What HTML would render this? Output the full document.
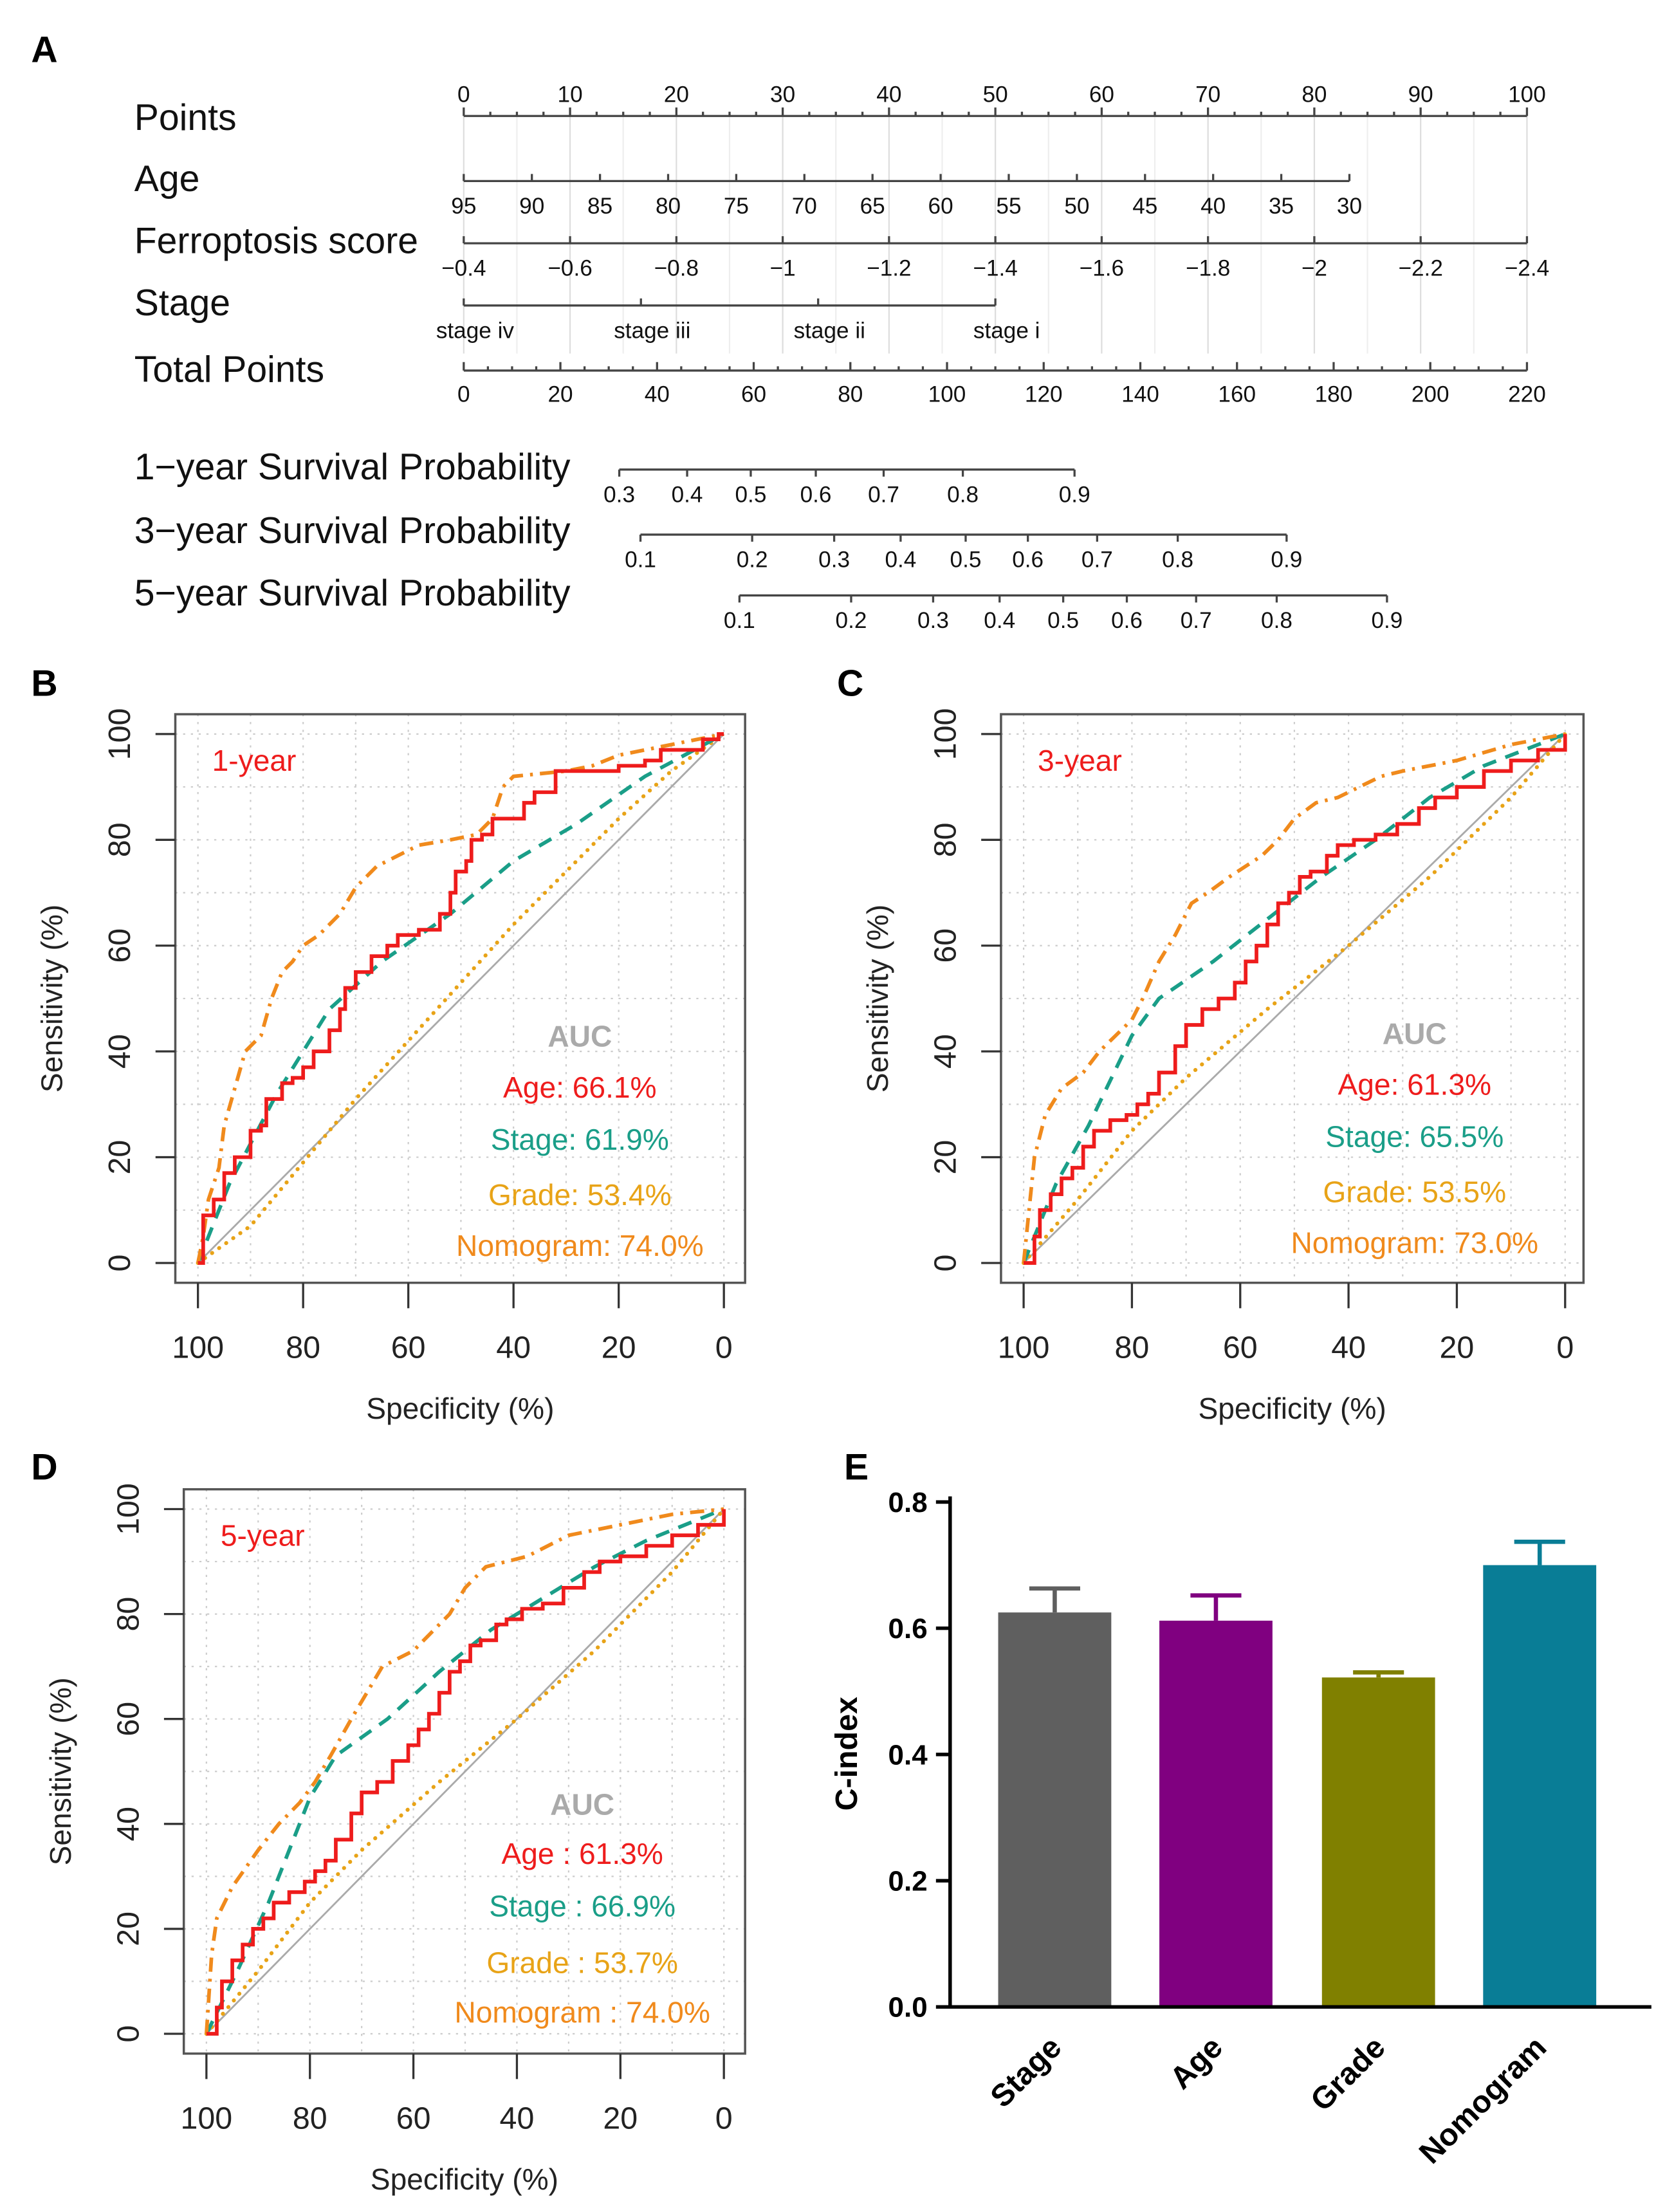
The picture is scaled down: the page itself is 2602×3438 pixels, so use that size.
<!DOCTYPE html>
<html><head><meta charset="utf-8">
<style>
html,body{margin:0;padding:0;background:#fff;}
svg{display:block;font-family:"Liberation Sans",Arial,sans-serif;}
</style></head>
<body>
<svg id="fig" width="2602" height="3438" viewBox="0 0 1184 1564" preserveAspectRatio="none" xmlns="http://www.w3.org/2000/svg">
<text x="22" y="44" font-size="26" font-weight="bold">A</text>
<text x="22" y="492" font-size="26" font-weight="bold">B</text>
<text x="592" y="492" font-size="26" font-weight="bold">C</text>
<text x="22" y="1046" font-size="26" font-weight="bold">D</text>
<text x="597" y="1046" font-size="26" font-weight="bold">E</text>
<g id="nomo"></g>
<g id="pb"></g>
<g id="pc"></g>
<g id="pd"></g>
<g id="pe"></g>
</svg>
<script>
// ---------- data ----------
const rocB_age=[[100,0],[99,3],[99,9],[97,9],[97,12],[96,12],[95,17],[93,20],[91,20],[90,25],[88,26],[87,31],[84,31],[84,34],[82,35],[80,37],[78,40],[75,44],[73,48],[72,52],[70,55],[67,58],[64,60],[62,62],[58,63],[55,63],[54,66],[52,70],[51,74],[49,76],[48,80],[46,81],[44,84],[40,84],[38,87],[36,89],[33,89],[32,93],[20,93],[20,94],[15,95],[12,97],[5,97],[4,99],[1,100],[0,100]];
const rocB_nomo=[[100,0],[99,5],[98,12],[96,18],[95,26],[93,33],[91,40],[88,43],[86,50],[84,55],[82,57],[80,60],[77,62],[73,66],[70,71],[66,75],[62,77],[58,79],[52,80],[47,81],[44,84],[42,90],[40,92],[30,93],[25,94],[20,96],[10,98],[5,99],[0,100]];
const rocB_stage=[[100,0],[94,15],[85,32],[75,48],[65,57],[52,66],[40,76],[28,83],[15,92],[0,100]];
const rocB_grade=[[100,0],[90,7],[80,19],[70,31],[60,42],[50,53],[40,64],[30,74],[20,84],[10,93],[0,100]];
const rocC_age=[[100,0],[98,5],[97,10],[95,13],[93,16],[91,18],[89,22],[87,25],[84,27],[81,28],[79,30],[77,32],[75,36],[72,41],[70,45],[67,48],[64,50],[61,53],[59,57],[57,60],[55,64],[53,68],[51,70],[49,73],[47,74],[44,77],[42,79],[39,80],[35,81],[31,83],[27,86],[24,88],[20,90],[15,93],[10,95],[5,97],[0,100]];
const rocC_nomo=[[100,0],[99,10],[98,20],[96,28],[93,33],[89,36],[86,40],[83,43],[80,46],[78,50],[75,57],[72,62],[69,68],[66,70],[62,73],[59,75],[56,77],[53,80],[50,84],[46,87],[42,88],[38,90],[34,92],[30,93],[20,95],[10,98],[0,100]];
const rocC_stage=[[100,0],[94,15],[88,26],[80,43],[75,50],[65,57],[55,65],[45,73],[35,80],[25,88],[15,94],[0,100]];
const rocC_grade=[[100,0],[90,12],[80,25],[70,35],[55,48],[40,60],[25,73],[10,88],[0,100]];
const rocD_age=[[100,0],[98,5],[97,10],[95,14],[93,17],[91,20],[89,22],[87,25],[84,27],[81,29],[79,31],[77,33],[75,37],[72,42],[70,46],[67,48],[64,52],[61,55],[59,58],[57,61],[55,65],[53,69],[51,71],[49,74],[47,75],[44,78],[42,79],[39,81],[35,82],[31,85],[27,88],[24,90],[20,91],[15,93],[10,95],[5,97],[0,100]];
const rocD_nomo=[[100,0],[99,15],[98,22],[95,28],[90,35],[86,40],[82,44],[79,48],[76,53],[72,60],[69,65],[66,70],[60,73],[57,76],[53,80],[50,85],[46,89],[42,90],[38,91],[34,93],[30,95],[20,97],[10,99],[0,100]];
const rocD_stage=[[100,0],[94,12],[88,25],[80,45],[75,53],[65,60],[55,69],[45,77],[35,83],[25,89],[15,94],[0,100]];
const rocD_grade=[[100,0],[90,12],[80,25],[70,35],[55,48],[40,60],[25,73],[10,88],[0,100]];
const rocTicks=[100,80,60,40,20,0];
const barCats=["Stage","Age","Grade","Nomogram"];
const barVals=[0.625,0.612,0.522,0.70];
const barErr=[0.038,0.040,0.008,0.037];
const barTicks=[0.0,0.2,0.4,0.6,0.8];

const NS="http://www.w3.org/2000/svg";
function mk(parent,tag,attrs,txt){const e=document.createElementNS(NS,tag);for(const k in attrs)e.setAttribute(k,attrs[k]);if(txt!==undefined)e.textContent=txt;parent.appendChild(e);return e;}

// ---------- ROC panels ----------
function roc(gid,box,xr,yr,series,label,auc,aucY){
  const g=document.getElementById(gid);
  const X=v=>xr[0]+(100-v)/100*(xr[1]-xr[0]);
  const Y=v=>yr[0]-v/100*(yr[0]-yr[1]);
  for(let v=0;v<=100;v+=10){
    let l=mk(g,'line',{x1:X(v),x2:X(v),y1:box[1],y2:box[3],stroke:'#ccc','stroke-width':1,'stroke-dasharray':'1.5 4'});
    
    l=mk(g,'line',{x1:box[0],x2:box[2],y1:Y(v),y2:Y(v),stroke:'#ccc','stroke-width':1,'stroke-dasharray':'1.5 4'});
    
  }
  let d=mk(g,'line',{x1:X(100),y1:Y(0),x2:X(0),y2:Y(100),stroke:'#aaa','stroke-width':1.3});
  
  const st=[{k:'grade',c:'#e8a317',da:'0.1 6',w:2.8},{k:'stage',c:'#1a9e88',da:'10 7',w:2.6},{k:'nomo',c:'#f08a1c',da:'10 5 2 5',w:2.6},{k:'age',c:'#ee1c1c',da:'',w:2.6}];
  st.forEach(s=>{
    const pts=series[s.k];let p='M'+X(pts[0][0])+' '+Y(pts[0][1]);
    for(let i=1;i<pts.length;i++){ if(s.k==='age'){p+=' H'+X(pts[i][0])+' V'+Y(pts[i][1]);} else p+=' L'+X(pts[i][0])+' '+Y(pts[i][1]); }
    const e=mk(g,'path',{d:p,fill:'none',stroke:s.c,'stroke-width':s.w,'stroke-dasharray':s.da,'stroke-linecap':s.k==='grade'?'round':'butt'});
    
  });
  const r=mk(g,'rect',{x:box[0],y:box[1],width:box[2]-box[0],height:box[3]-box[1],fill:'none',stroke:'#555','stroke-width':1.6});
  
  rocTicks.forEach(v=>{
    let t=mk(g,'line',{x1:X(v),x2:X(v),y1:box[3],y2:box[3]+18,stroke:'#333','stroke-width':1.5});
    
    let tl=mk(g,'text',{x:X(v),y:box[3]+53,'font-size':22,'text-anchor':'middle',fill:'#222'},String(v));
    
    t=mk(g,'line',{x1:box[0]-14,x2:box[0],y1:Y(v),y2:Y(v),stroke:'#333','stroke-width':1.5});
    
    const yl=box[0]-32;
    tl=mk(g,'text',{x:yl,y:Y(v),'font-size':22,'text-anchor':'middle',fill:'#222',transform:`rotate(-90 ${yl} ${Y(v)})`},String(v));
    
  });
  let xt=mk(g,'text',{x:(box[0]+box[2])/2,y:box[3]+96,'font-size':21,'text-anchor':'middle',fill:'#222'},'Specificity (%)');
  
  const yx=box[0]-80,yy=(box[1]+box[3])/2;
  let yt=mk(g,'text',{x:yx,y:yy,'font-size':21,'text-anchor':'middle',fill:'#222',transform:`rotate(-90 ${yx} ${yy})`},'Sensitivity (%)');
  
  let lb=mk(g,'text',{x:box[0]+26,y:box[1]+40,'font-size':21,fill:'#ee1c1c'},label);
  
  const cx=box[0]+(box[2]-box[0])*0.71;
  const cols=['#aaa','#ee1c1c','#1a9e88','#e8a317','#f08a1c'];
  const names=['auc-title','auc-age','auc-stage','auc-grade','auc-nomogram'];
  for(let i=0;i<5;i++){
    const tx=i===0?'AUC':auc[i-1];
    const e=mk(g,'text',{x:cx,y:aucY[i],'font-size':21,'text-anchor':'middle',fill:cols[i],'font-weight':i===0?'bold':'normal'},tx);
    
  }
}
roc('pb',[124,505,527,907],[140,512],[893,519],{age:rocB_age,nomo:rocB_nomo,stage:rocB_stage,grade:rocB_grade},'1-year',['Age: 66.1%','Stage: 61.9%','Grade: 53.4%','Nomogram: 74.0%'],[740,776,813,852,888]);
roc('pc',[708,505,1120,907],[724,1107],[893,519],{age:rocC_age,nomo:rocC_nomo,stage:rocC_stage,grade:rocC_grade},'3-year',['Age: 61.3%','Stage: 65.5%','Grade: 53.5%','Nomogram: 73.0%'],[738,774,811,850,886]);
roc('pd',[130,1053,527,1452],[146,512],[1438,1067],{age:rocD_age,nomo:rocD_nomo,stage:rocD_stage,grade:rocD_grade},'5-year',['Age : 61.3%','Stage : 66.9%','Grade : 53.7%','Nomogram : 74.0%'],[1283,1318,1355,1395,1430]);

// ---------- Bar chart E ----------
(function(){
  const g=document.getElementById('pe');
  const y0=1419,y1=1062,ax=672,xr=1168;
  const Y=v=>y0-v/0.8*(y0-y1);
  const cols=['#5f5f5f','#800080','#808000','#097d96'];
  const bx=[706,820,935,1049],bw=80;
  barCats.forEach((c,i)=>{
    const v=barVals[i],e=barErr[i],cx=bx[i]+bw/2;
    let l=mk(g,'line',{x1:cx,x2:cx,y1:Y(v),y2:Y(v+e),stroke:cols[i],'stroke-width':3});
    
    l=mk(g,'line',{x1:cx-18,x2:cx+18,y1:Y(v+e),y2:Y(v+e),stroke:cols[i],'stroke-width':3});
    
    const r=mk(g,'rect',{x:bx[i],y:Y(v),width:bw,height:y0-Y(v),fill:cols[i]});
    
    const tx=cx+6,ty=y0+30;
    const t=mk(g,'text',{x:tx,y:ty,'font-size':22,'font-weight':'bold','text-anchor':'end',fill:'#000',transform:`rotate(-45 ${tx} ${ty})`},c);
    
  });
  let a=mk(g,'line',{x1:ax,x2:ax,y1:y1-4,y2:y0+1,stroke:'#000','stroke-width':2.5});
  
  a=mk(g,'line',{x1:ax-1,x2:xr,y1:y0,y2:y0,stroke:'#000','stroke-width':2.5});
  
  barTicks.forEach(v=>{
    let t=mk(g,'line',{x1:ax-10,x2:ax,y1:Y(v),y2:Y(v),stroke:'#000','stroke-width':2.5});
    
    t=mk(g,'text',{x:ax-16,y:Y(v)+7,'font-size':20,'font-weight':'bold','text-anchor':'end'},v.toFixed(1));
    
  });
  const tt=mk(g,'text',{x:606,y:1240,'font-size':22,'font-weight':'bold','text-anchor':'middle',transform:'rotate(-90 606 1240)'},'C-index');
  
})();

// ---------- Nomogram A ----------
(function(){
  const g=document.getElementById('nomo');
  const L=328,R=1080;
  const P=v=>L+v/100*(R-L);
  function txt(x,y,s,fs,anchor,name){const e=mk(g,'text',{x:x,y:y,'font-size':fs,'text-anchor':anchor||'middle',fill:'#111'},s);return e;}
  function ln(x1,y1,x2,y2,name,c,w){const e=mk(g,'line',{x1,y1,x2,y2,stroke:c||'#444','stroke-width':w||1.5});return e;}
  for(let v=0;v<=100;v+=5){ln(P(v),82,P(v),250,'grid-line',v%10===0?'#ddd':'#eee',1);}
  const rows=[['Points',92],['Age',135],['Ferroptosis score',179],['Stage',223],['Total Points',270],['1\u2212year Survival Probability',339],['3\u2212year Survival Probability',384],['5\u2212year Survival Probability',428]];
  rows.forEach(r=>txt(95,r[1],r[0],26,'start','row-label'));
  ln(L,82,R,82,'points-axis');
  for(let v=0;v<=100;v+=2.5){ln(P(v),82,P(v),v%10===0?76:79,'points-tick');}
  for(let v=0;v<=100;v+=10)txt(P(v),72,String(v),16,'middle','points-tick-label');
  const ageV=[95,90,85,80,75,70,65,60,55,50,45,40,35,30];
  ln(L,128,P(83.3),128,'age-axis');
  ageV.forEach((a,i)=>{const x=L+i*(P(83.3)-L)/13;ln(x,128,x,123,'age-tick');txt(x,151,String(a),16,'middle','age-tick-label');});
  const fv=['\u22120.4','\u22120.6','\u22120.8','\u22121','\u22121.2','\u22121.4','\u22121.6','\u22121.8','\u22122','\u22122.2','\u22122.4'];
  ln(L,172,R,172,'ferroptosis-axis');
  fv.forEach((f,i)=>{const x=P(i*10);ln(x,172,x,167,'ferroptosis-tick');txt(x,195,f,16,'middle','ferroptosis-tick-label');});
  ln(L,216,P(50),216,'stage-axis');
  const sv=['stage iv','stage iii','stage ii','stage i'];
  sv.forEach((s,i)=>{const x=L+i*(P(50)-L)/3;ln(x,216,x,211,'stage-tick');txt(x+8,239,s,16,'middle','stage-tick-label');});
  ln(L,262,R,262,'total-points-axis');
  for(let v=0;v<=220;v+=5){const x=L+v/220*(R-L);ln(x,262,x,v%20===0?256:259,'total-tick');}
  for(let v=0;v<=220;v+=20)txt(L+v/220*(R-L),284,String(v),16,'middle','total-tick-label');
  const surv=[[332,[[0.3,438],[0.4,486],[0.5,531],[0.6,577],[0.7,625],[0.8,681],[0.9,760]]],
              [378,[[0.1,453],[0.2,532],[0.3,590],[0.4,637],[0.5,683],[0.6,727],[0.7,776],[0.8,833],[0.9,910]]],
              [421,[[0.1,523],[0.2,602],[0.3,660],[0.4,707],[0.5,752],[0.6,797],[0.7,846],[0.8,903],[0.9,981]]]];
  surv.forEach(s=>{const y=s[0],t=s[1];ln(t[0][1],y,t[t.length-1][1],y,'survival-axis');
    t.forEach(p=>{ln(p[1],y,p[1],y+5,'survival-tick');txt(p[1],y+23,String(p[0]),16,'middle','survival-tick-label');});});
})();
</script>
</body></html>
